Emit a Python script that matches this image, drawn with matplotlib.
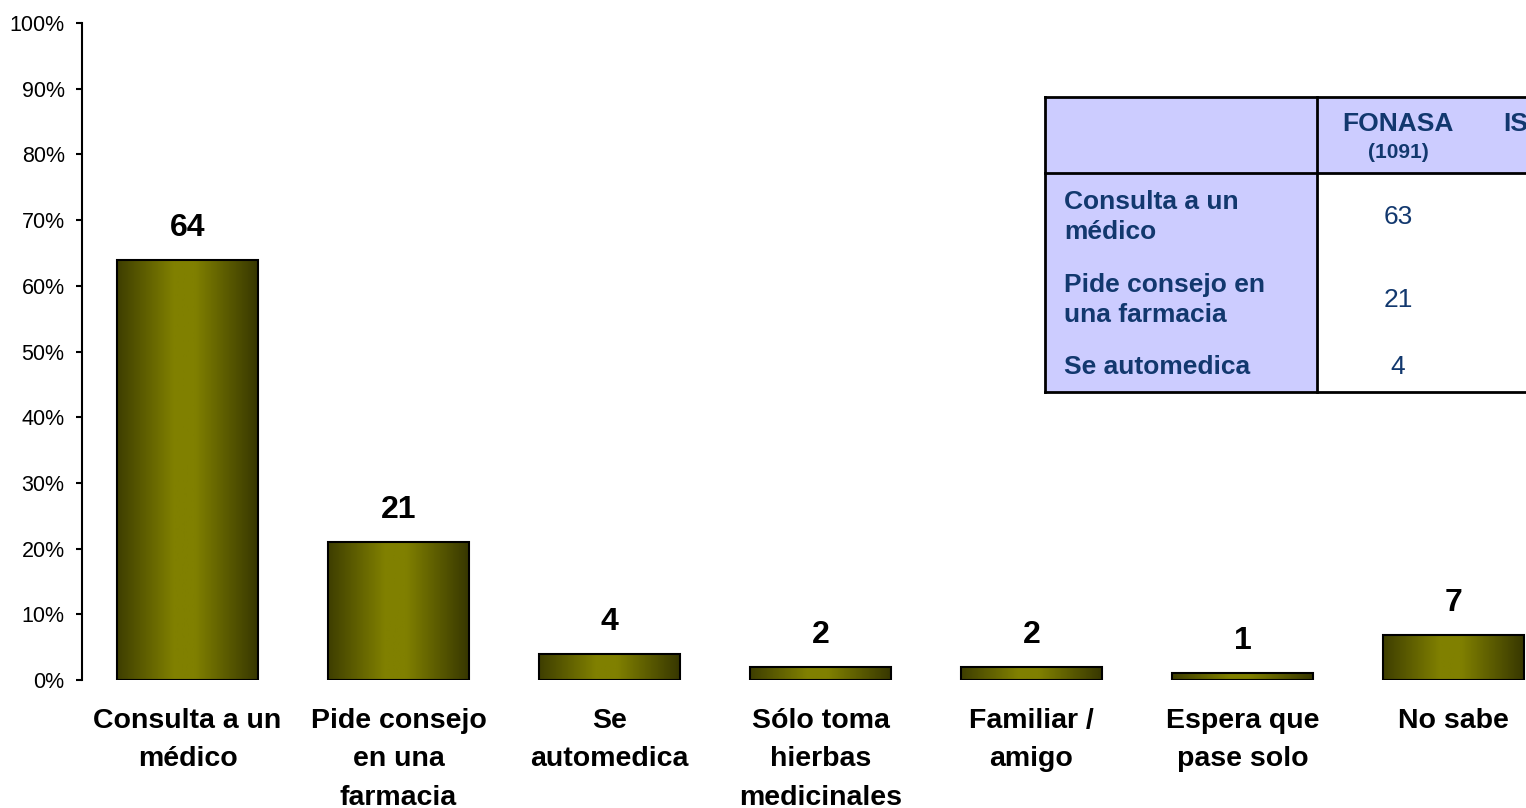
'''
Bar chart: action taken when ill, with side table (FONASA column).
'''

import matplotlib
matplotlib.use('Agg')
import matplotlib.pyplot as plt
from matplotlib.colors import LinearSegmentedColormap
from matplotlib.patches import Rectangle
from matplotlib.lines import Line2D
import numpy as np

# data
categories = ['Consulta a un\nmédico', 'Pide consejo\nen una\nfarmacia', 'Se\nautomedica',
              'Sólo toma\nhierbas\nmedicinales', 'Familiar /\namigo', 'Espera que\npase solo',
              'No sabe']
values = [64, 21, 4, 2, 2, 1, 6.8]
yticks = [0, 10, 20, 30, 40, 50, 60, 70, 80, 90, 100]

table_cols = ['FONASA', 'ISAPRE']
table_n = ['(1091)', '']
table_rows = ['Consulta a un\nmédico', 'Pide consejo en\nuna farmacia', 'Se automedica']
table_fonasa = [63, 21, 4]

W, H = 1526, 808
navy = '#12386E'
lav = '#CCCCFF'

plt.rcParams['font.family'] = ['Liberation Sans', 'DejaVu Sans']

def fx(px):
    return px / W

def fy(py):
    return 1 - py / H

fig = plt.figure(figsize=(W/100, H/100), dpi=100)
ax = fig.add_axes([fx(82), fy(680), 1477/W, 657/H])

x = np.arange(len(categories))
bars = ax.bar(x, values, width=0.67, color='none', edgecolor='black', linewidth=1.5, zorder=3)

# horizontal gradient fill for each bar
cmap = LinearSegmentedColormap.from_list('olive', [(0, '#3E3E00'), (0.4, '#808000'),
                                                   (0.55, '#808000'), (1, '#363600')])
grad = np.linspace(0, 1, 256).reshape(1, -1)
for b in bars:
    x0, y0 = b.get_x(), b.get_y()
    im = ax.imshow(grad, cmap=cmap, aspect='auto', zorder=2,
                   extent=[x0, x0 + b.get_width(), y0, y0 + b.get_height()])
    im.set_clip_path(b)

for xi, v in zip(x, values):
    ax.annotate('%.0f' % v, (xi, v), xytext=(0, 23), textcoords='offset points',
                ha='center', va='center', fontsize=23, fontweight='bold')

ax.set_xlim(-0.5, len(categories) - 0.5)
ax.set_ylim(0, 100)
ax.set_yticks(yticks)
ax.set_yticklabels(['%d%%' % t for t in yticks], fontsize=15.5)
ax.set_xticks(x)
ax.set_xticklabels(categories, fontsize=20.5, fontweight='bold', linespacing=1.63)
ax.tick_params(axis='x', length=0, pad=20)
ax.tick_params(axis='y', length=4.5, width=1.5, pad=8, direction='out')
for s in ['top', 'right', 'bottom']:
    ax.spines[s].set_visible(False)
ax.spines['left'].set_linewidth(1.5)

## Overlay table (drawn in figure pixels)
fig.patches.append(Rectangle((fx(1045), fy(173)), fx(W + 50) - fx(1045), fy(97) - fy(173),
                             transform=fig.transFigure, facecolor=lav, edgecolor='none', zorder=5))
fig.patches.append(Rectangle((fx(1045), fy(392)), fx(1317) - fx(1045), fy(173) - fy(392),
                             transform=fig.transFigure, facecolor=lav, edgecolor='none', zorder=5))
fig.patches.append(Rectangle((fx(1317), fy(392)), fx(W + 50) - fx(1317), fy(173) - fy(392),
                             transform=fig.transFigure, facecolor='white', edgecolor='none', zorder=5))
for (xa, xb, ya, yb) in [(1045, W + 50, 97, 97), (1045, W + 50, 173, 173), (1045, W + 50, 392, 392),
                         (1045, 1045, 97, 392), (1317, 1317, 97, 392)]:
    fig.lines.append(Line2D([fx(xa), fx(xb)], [fy(ya), fy(yb)], transform=fig.transFigure,
                            color='black', linewidth=2, zorder=6))

fig.text(fx(1398), fy(124), table_cols[0], ha='center', va='center', fontsize=19,
         fontweight='bold', color=navy, zorder=7)
fig.text(fx(1398), fy(153), table_n[0], ha='center', va='center', fontsize=15,
         fontweight='bold', color=navy, zorder=7)
fig.text(fx(1503), fy(124), table_cols[1], ha='left', va='center', fontsize=19,
         fontweight='bold', color=navy, zorder=7)

row_y = [217, 300, 367]
for lab, val, yy in zip(table_rows, table_fonasa, row_y):
    fig.text(fx(1064), fy(yy), lab, ha='left', va='center', fontsize=19, fontweight='bold',
             color=navy, linespacing=1.35, zorder=7)
    fig.text(fx(1398), fy(yy), str(val), ha='center', va='center', fontsize=19,
             color=navy, zorder=7)

fig.savefig('out.png', dpi=100)
